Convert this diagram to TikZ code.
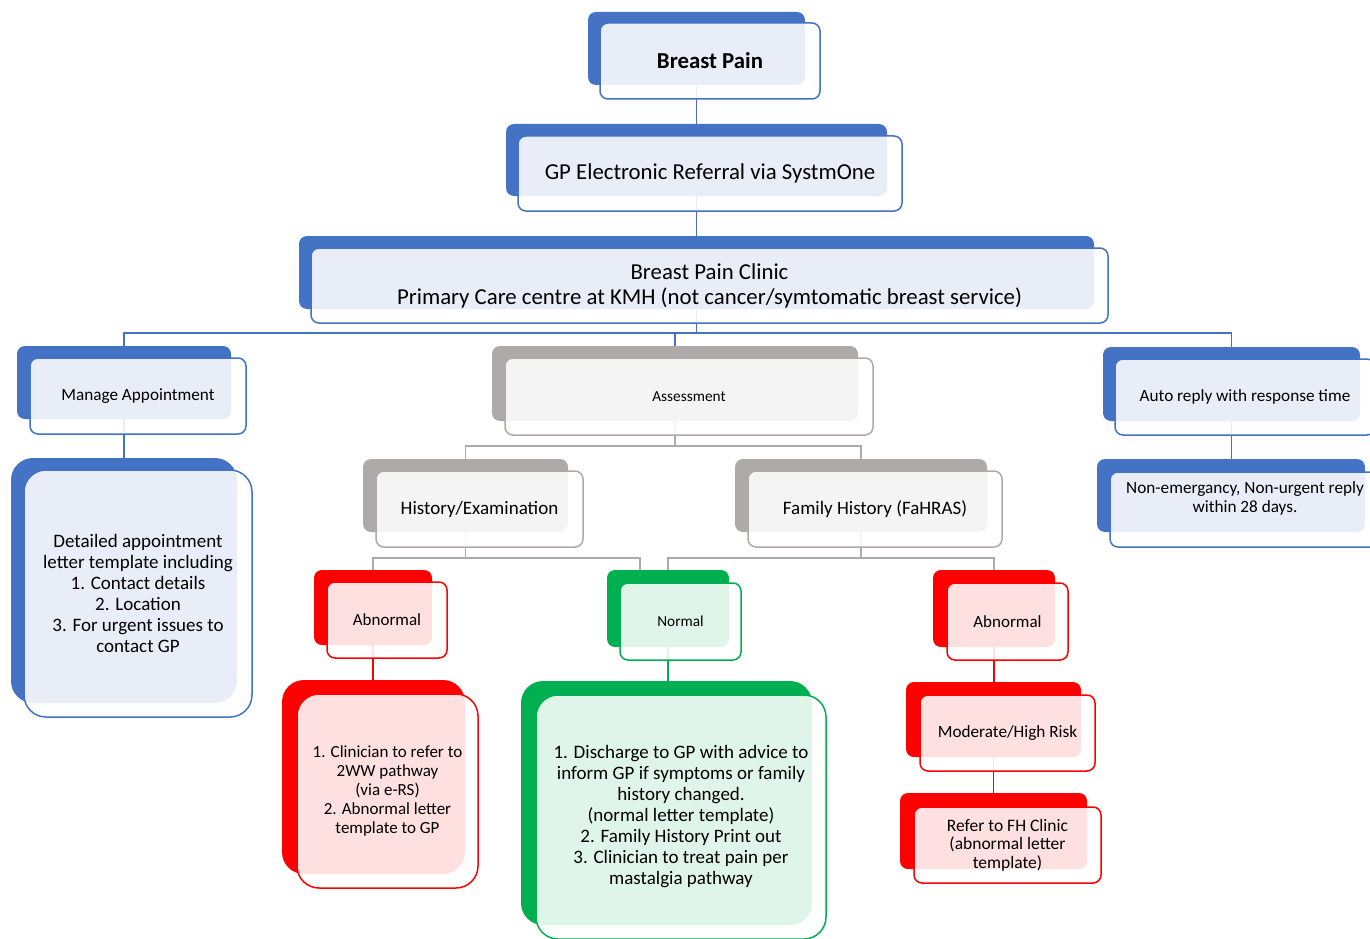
\documentclass[tikz,border=0pt]{standalone}
\usepackage{fontspec}
\setmainfont{Carlito}
\usetikzlibrary{backgrounds}
\definecolor{cblue}{HTML}{4472C4}
\definecolor{cgray}{HTML}{AEAAAA}
\definecolor{cgreen}{HTML}{00B050}
\definecolor{cred}{HTML}{FF0000}
\tikzset{
  bk/.style={fill=#1, draw=none, rounded corners=8pt, inner sep=0pt},
  fr/.style={draw=#1, line width=1.5pt, fill=white, fill opacity=0.88, text opacity=1,
             rounded corners=8pt, inner sep=0pt, align=center, text=black},
  big/.style={rounded corners=22pt},
  link/.style={draw=#1, line width=1.5pt},
  fsmall/.style={font=\fontsize{15.3}{18}\selectfont},
  fmid/.style={font=\fontsize{17.2}{19}\selectfont},
  fhist/.style={font=\fontsize{19}{21}\selectfont},
  flist/.style={font=\fontsize{19}{21}\selectfont},
  fred/.style={font=\fontsize{17}{19}\selectfont},
  fref/.style={font=\fontsize{17.5}{18.5}\selectfont},
  ftop/.style={font=\fontsize{22.8}{25}\selectfont},
}
\newcommand\mybox[8][]{%
  \node[#2,#1,minimum width={(#6)-(#4)},minimum height={(#7)-(#5)}] (#3)
    at ({((#4)+(#6))/2},{((#5)+(#7))/2}) {#8};}
\begin{document}
\begin{tikzpicture}[x=1pt,y=-1pt]
\useasboundingbox (0,0) rectangle (1370,939);
% boxes
\mybox{bk=cblue}{bp-b}{588}{12}{805}{85}{}
\mybox[font=\fontsize{22.8}{25}\selectfont\bfseries]{fr=cblue}{bp}{600}{23}{820}{99}{Breast Pain}
\mybox{bk=cblue}{gp-b}{506}{124}{887}{196}{}
\mybox[ftop]{fr=cblue}{gp}{518}{136}{902}{211}{GP Electronic Referral via SystmOne}
\mybox{bk=cblue}{cl-b}{299}{236}{1094}{309}{}
\mybox[ftop]{fr=cblue}{cl}{311}{248}{1108}{323}{Breast Pain Clinic\\Primary Care centre at KMH (not cancer/symtomatic breast service)}
\mybox{bk=cblue}{ma-b}{17}{346}{231}{419}{}
\mybox[fmid]{fr=cblue}{ma}{30}{358}{246}{434}{Manage Appointment}
\mybox[big]{bk=cblue}{dl-b}{11}{458}{237}{703}{}
\mybox[big,flist]{fr=cblue}{dl}{24}{470}{252}{717}{Detailed appointment\\letter template including\\1. Contact details\\2. Location\\3. For urgent issues to\\contact GP}
\mybox{bk=cgray}{as-b}{492}{346}{858}{421}{}
\mybox[fsmall]{fr=cgray}{as}{505}{358}{873}{435}{Assessment}
\mybox{bk=cblue}{ar-b}{1103}{347}{1360}{421}{}
\mybox[fmid]{fr=cblue}{ar}{1115}{359}{1375}{435}{Auto reply with response time}
\mybox{bk=cblue}{ne-b}{1097}{459}{1365}{532}{}
\mybox{fr=cblue}{ne}{1110}{472}{1380}{547}{}
\node[fmid, align=center, inner sep=0pt] (ne-t) at (1245,498.5) {Non-emergancy, Non-urgent reply\\within 28 days.};
\mybox{bk=cgray}{he-b}{363}{459}{568}{532}{}
\mybox[fhist]{fr=cgray}{he}{376}{471}{583}{547}{History/Examination}
\mybox{bk=cgray}{fh-b}{735}{459}{987}{532}{}
\mybox[fhist]{fr=cgray}{fh}{748}{471}{1002}{547}{Family History (FaHRAS)}
\mybox{bk=cred}{ab1-b}{314}{570}{432}{645}{}
\mybox[fred]{fr=cred}{ab1}{327}{582}{447}{658}{Abnormal}
\mybox{bk=cgreen}{no-b}{607}{570}{729}{647}{}
\mybox[fsmall]{fr=cgreen}{no}{620}{583}{741}{660}{Normal}
\mybox{bk=cred}{ab2-b}{933}{570}{1055}{647}{}
\mybox[fred]{fr=cred}{ab2}{947}{583}{1068}{660}{Abnormal}
\mybox[big]{bk=cred}{cn-b}{282}{680}{465}{874}{}
\mybox[big,fred]{fr=cred}{cn}{297}{694}{478}{888}{1. Clinician to refer to\\2WW pathway\\(via e-RS)\\2. Abnormal letter\\template to GP}
\mybox[big]{bk=cgreen}{dc-b}{521}{681}{812}{925}{}
\mybox[big,flist]{fr=cgreen}{dc}{536}{695}{826}{939}{1. Discharge to GP with advice to\\inform GP if symptoms or family\\history changed.\\(normal letter template)\\2. Family History Print out\\3. Clinician to treat pain per\\mastalgia pathway}
\mybox{bk=cred}{mh-b}{906}{682}{1081}{757}{}
\mybox[fmid]{fr=cred}{mh}{920}{695}{1095}{771}{Moderate/High Risk}
\mybox{bk=cred}{rf-b}{900}{793}{1087}{869}{}
\mybox[fref]{fr=cred}{rf}{914}{807}{1101}{883}{Refer to FH Clinic\\(abnormal letter\\template)}
% connectors
\coordinate (bus1) at (0,333);
\coordinate (bus2) at (0,446);
\coordinate (bus3) at (0,558);
\coordinate (nL) at (640,576);
\begin{pgfonlayer}{background}
\draw[link=cblue] (bp-b.center) -- (bp-b.center |- gp-b.center);
\draw[link=cblue] (gp-b.center) -- (gp-b.center |- cl-b.center);
\draw[link=cblue] (cl-b.center) -- (cl-b.center |- bus1);
\draw[link=cblue] (ma-b.center) -- (ma-b.center |- bus1) -- (ar-b.center |- bus1) -- (ar-b.center);
\draw[link=cblue] (as-b.center |- bus1) -- (as-b.center);
\draw[link=cblue] (ma-b.center) -- (ma-b.center |- dl-b.center);
\draw[link=cblue] (ar-b.center) -- (ar-b.center |- ne-b.center);
\draw[link=cgray] (as-b.center) -- (as-b.center |- bus2);
\draw[link=cgray] (he-b.center) -- (he-b.center |- bus2) -- (fh-b.center |- bus2) -- (fh-b.center);
\draw[link=cgray] (he-b.center) -- (he-b.center |- bus3);
\draw[link=cgray] (ab1-b.center) -- (ab1-b.center |- bus3) -- (nL |- bus3) -- (nL);
\draw[link=cgray] (fh-b.center) -- (fh-b.center |- bus3);
\draw[link=cgray] (no-b.center) -- (no-b.center |- bus3) -- (ab2-b.center |- bus3) -- (ab2-b.center);
\draw[link=cred] (ab1-b.center) -- (ab1-b.center |- cn-b.center);
\draw[link=cgreen] (no-b.center) -- (no-b.center |- dc-b.center);
\draw[link=cred] (ab2-b.center) -- (ab2-b.center |- mh-b.center);
\draw[link=cred] (mh-b.center) -- (mh-b.center |- rf-b.center);
\end{pgfonlayer}
\end{tikzpicture}
\end{document}
